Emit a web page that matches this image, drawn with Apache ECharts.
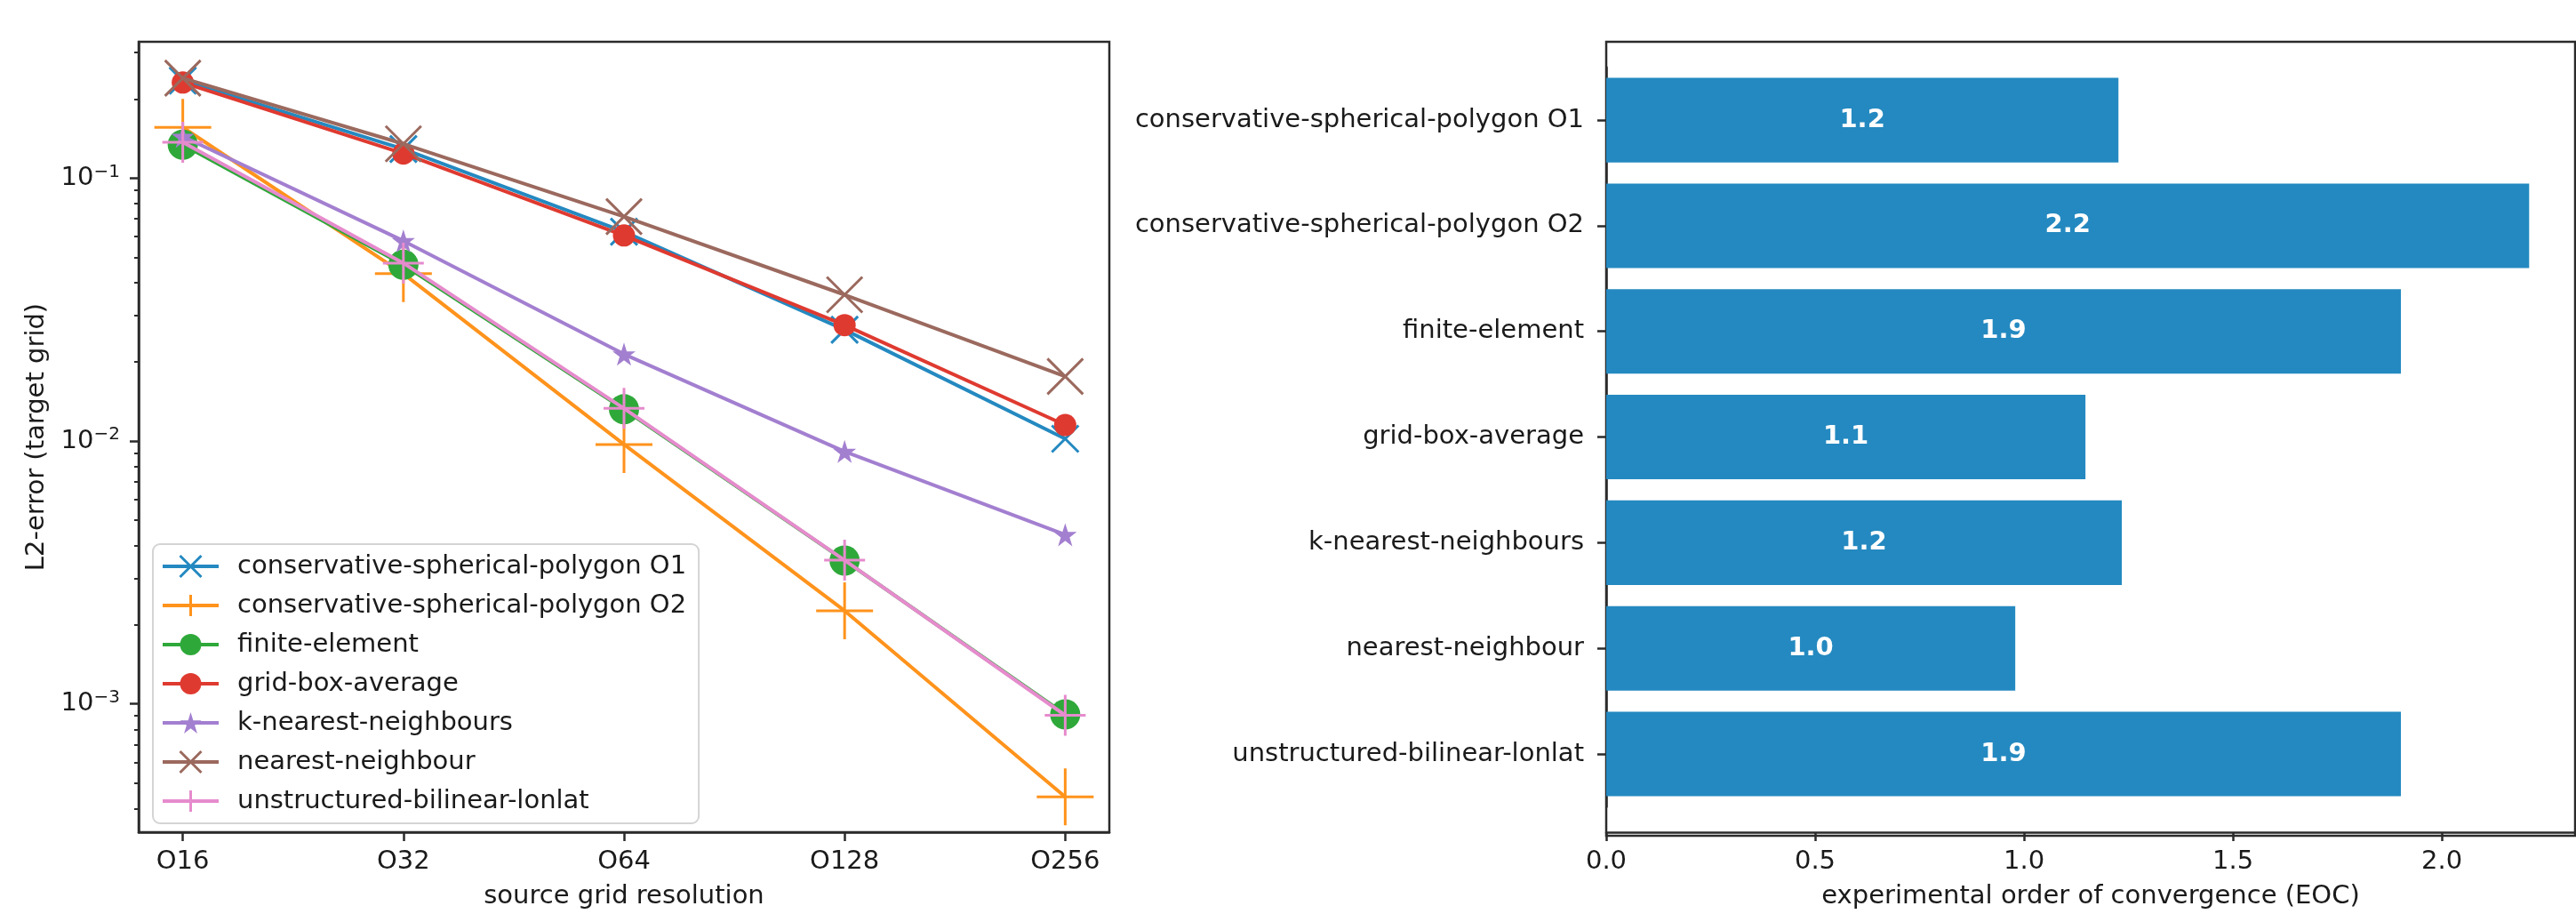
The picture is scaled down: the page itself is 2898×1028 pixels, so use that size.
<!DOCTYPE html>
<html>
<head>
<meta charset="utf-8">
<title>Remapping convergence</title>
<script src="https://cdn.jsdelivr.net/npm/echarts@6/dist/echarts.min.js"></script>
<style>
  html, body { margin: 0; padding: 0; background: #fff; }
  #chart { width: 2898px; height: 1028px; }
</style>
</head>
<body>
<div id="chart"></div>
<script>
// ---- data -------------------------------------------------------------
const resolutions = ['O16', 'O32', 'O64', 'O128', 'O256'];

const methods = [
  'conservative-spherical-polygon O1',
  'conservative-spherical-polygon O2',
  'finite-element',
  'grid-box-average',
  'k-nearest-neighbours',
  'nearest-neighbour',
  'unstructured-bilinear-lonlat'
];

// L2 error on the target grid, one value per source resolution
const errConservativeO1 = [0.235, 0.129, 0.0625, 0.0265, 0.0102];
const errConservativeO2 = [0.156, 0.0433, 0.0097, 0.00226, 0.000443];
const errFiniteElement  = [0.134, 0.0468, 0.0132, 0.00351, 0.000912];
const errGridBoxAverage = [0.231, 0.124, 0.0605, 0.0276, 0.0115];
const errKNearest       = [0.144, 0.0577, 0.0214, 0.00912, 0.0044];
const errNearest        = [0.240, 0.135, 0.0714, 0.036, 0.0176];
const errBilinear       = [0.137, 0.0475, 0.0133, 0.00352, 0.000905];

// experimental order of convergence per method
const eoc = [1.226, 2.209, 1.902, 1.147, 1.234, 0.979, 1.902];

// axis ticks
const logMajorTicks = [1e-3, 1e-2, 1e-1];
const eocTicks = [0, 0.5, 1, 1.5, 2];

// ---- styling helpers ---------------------------------------------------
const FONT = 'DejaVu Sans';
const FS = 29;
const TXT = '#1a1a1a';
const AX = '#2b2b2b';

const colors = ['#2489c0', '#ff931c', '#2fa83a', '#df3a30', '#a37fd0', '#9b695e', '#e68bcd'];

const SYM_X = 'path://M0,0L10,10M10,0L0,10';
const SYM_PLUS = 'path://M5,0L5,10M0,5L10,5';
function starSymbol() {
  const pts = [];
  for (let i = 0; i < 10; i++) {
    const r = i % 2 ? 0.382 : 1;
    const a = (-90 + i * 36) * Math.PI / 180;
    pts.push((50 + 50 * r * Math.cos(a)).toFixed(2) + ',' + (50 + 50 * r * Math.sin(a)).toFixed(2));
  }
  return 'path://M' + pts.join('L') + 'Z';
}

const markerSpec = [
  { symbol: SYM_X,        size: 30, stroke: 3 },
  { symbol: SYM_PLUS,     size: 64, stroke: 3 },
  { symbol: 'circle',     size: 34, stroke: 0 },
  { symbol: 'circle',     size: 25, stroke: 0 },
  { symbol: starSymbol(), size: 26, stroke: 0 },
  { symbol: SYM_X,        size: 40, stroke: 3 },
  { symbol: SYM_PLUS,     size: 46, stroke: 3 }
];

const errors = [errConservativeO1, errConservativeO2, errFiniteElement, errGridBoxAverage,
                errKNearest, errNearest, errBilinear];

// minor ticks of the log axis (2..9 per decade inside the visible range)
const yMin = 3.25e-4, yMax = 0.330;
const logMinorTicks = [];
for (let e = -4; e <= -1; e++) {
  for (let k = 2; k <= 9; k++) {
    const v = k * Math.pow(10, e);
    if (v >= yMin && v <= yMax) logMinorTicks.push(v);
  }
}

const supDigits = (n) => String(n).replace('-', '\u2212');

const lineSeries = methods.map((name, i) => ({
  type: 'line',
  name: name,
  xAxisIndex: 0,
  yAxisIndex: 0,
  z: 2 + i,
  data: errors[i].map((v, j) => [j, v]),
  symbol: markerSpec[i].symbol,
  symbolSize: markerSpec[i].size,
  showAllSymbol: true,
  lineStyle: { color: colors[i], width: 4 },
  itemStyle: {
    color: colors[i],
    borderColor: colors[i],
    borderWidth: markerSpec[i].stroke
  },
  emphasis: { disabled: true },
  animation: false
}));

const chart = echarts.init(document.getElementById('chart'), null, { renderer: 'canvas' });

chart.setOption({
  backgroundColor: '#ffffff',
  animation: false,
  textStyle: { fontFamily: FONT, color: TXT },
  grid: [
    // left: error vs resolution
    { left: 156, top: 47, width: 1092, height: 893, show: true,
      borderColor: AX, borderWidth: 2.5, backgroundColor: 'transparent' },
    // right: frame around the bar chart
    { left: 1807, top: 47, width: 1090, height: 893, show: true,
      borderColor: AX, borderWidth: 2.5, backgroundColor: 'transparent' },
    // right: bars
    { left: 1807, top: 75.7, width: 1090, height: 835.7 }
  ],
  xAxis: [
    {
      gridIndex: 0, type: 'value', min: -0.2, max: 4.2,
      name: 'source grid resolution', nameLocation: 'middle', nameGap: 58,
      nameTextStyle: { fontFamily: FONT, fontSize: FS, color: TXT },
      axisLine: { show: true, onZero: false, lineStyle: { color: AX, width: 2.5 } },
      axisTick: { show: true, length: 10, customValues: [0, 1, 2, 3, 4],
                  lineStyle: { color: AX, width: 2.5 } },
      axisLabel: { customValues: [0, 1, 2, 3, 4], margin: 19,
                   fontFamily: FONT, fontSize: FS, color: TXT,
                   formatter: (v) => resolutions[Math.round(v)] },
      splitLine: { show: false }
    },
    { gridIndex: 1, type: 'value', show: false },
    {
      gridIndex: 2, type: 'value', min: 0, max: 2.319, offset: 28.6,
      name: 'experimental order of convergence (EOC)', nameLocation: 'middle', nameGap: 58,
      nameTextStyle: { fontFamily: FONT, fontSize: FS, color: TXT },
      axisLine: { show: true, onZero: false, lineStyle: { color: AX, width: 2.5 } },
      axisTick: { show: true, length: 10, customValues: eocTicks,
                  lineStyle: { color: AX, width: 2.5 } },
      axisLabel: { customValues: eocTicks, margin: 19,
                   fontFamily: FONT, fontSize: FS, color: TXT,
                   formatter: (v) => v.toFixed(1) },
      splitLine: { show: false }
    }
  ],
  yAxis: [
    {
      gridIndex: 0, type: 'log', min: yMin, max: yMax, position: 'left',
      name: 'L2-error (target grid)', nameLocation: 'middle', nameGap: 100,
      nameTextStyle: { fontFamily: FONT, fontSize: FS, color: TXT },
      axisLine: { show: true, onZero: false, lineStyle: { color: AX, width: 2.5 } },
      axisTick: { show: true, length: 10, customValues: logMajorTicks,
                  lineStyle: { color: AX, width: 2.5 } },
      axisLabel: {
        customValues: logMajorTicks, margin: 21,
        formatter: (v) => '{b|10}{s|' + supDigits(Math.round(Math.log10(v))) + '}',
        rich: {
          b: { fontFamily: FONT, fontSize: FS, color: TXT, lineHeight: 34 },
          s: { fontFamily: FONT, fontSize: 20, color: TXT, verticalAlign: 'top', lineHeight: 34 }
        }
      },
      splitLine: { show: false },
      minorTick: { show: false }
    },
    {
      gridIndex: 0, type: 'log', min: yMin, max: yMax, position: 'left', offset: 0,
      axisLine: { show: false, onZero: false },
      axisTick: { show: true, length: 5, customValues: logMinorTicks,
                  lineStyle: { color: AX, width: 2 } },
      axisLabel: { show: false },
      splitLine: { show: false }
    },
    { gridIndex: 1, type: 'value', show: false },
    {
      gridIndex: 2, type: 'category', data: methods, inverse: true,
      axisLine: { show: true, onZero: false, lineStyle: { color: AX, width: 2.5 } },
      axisTick: { show: true, length: 10, alignWithLabel: true,
                  lineStyle: { color: AX, width: 2.5 } },
      axisLabel: { margin: 25, fontFamily: FONT, fontSize: FS, color: TXT },
      splitLine: { show: false }
    }
  ],
  legend: {
    orient: 'vertical',
    left: 172, top: 612,
    z: 20,
    padding: [10, 14, 10, 9],
    itemWidth: 63, itemHeight: 30, itemGap: 14,
    backgroundColor: 'rgba(255,255,255,0.85)',
    borderColor: '#d4d4d4', borderWidth: 2, borderRadius: 8,
    selectedMode: false,
    data: methods,
    itemStyle: { borderWidth: 'inherit' },
    lineStyle: { width: 'inherit' },
    textStyle: { fontFamily: FONT, fontSize: FS, color: TXT, lineHeight: 30,
                 padding: [0, 0, 0, 16] }
  },
  series: lineSeries.concat([
    {
      type: 'bar',
      name: 'EOC',
      xAxisIndex: 2,
      yAxisIndex: 3,
      data: eoc,
      barWidth: '80%',
      itemStyle: { color: '#2489c0' },
      label: {
        show: true, position: 'inside',
        fontFamily: FONT, fontSize: FS, fontWeight: 'bold', color: '#ffffff',
        formatter: (p) => p.value.toFixed(1)
      },
      emphasis: { disabled: true },
      animation: false
    }
  ])
});
</script>
</body>
</html>
